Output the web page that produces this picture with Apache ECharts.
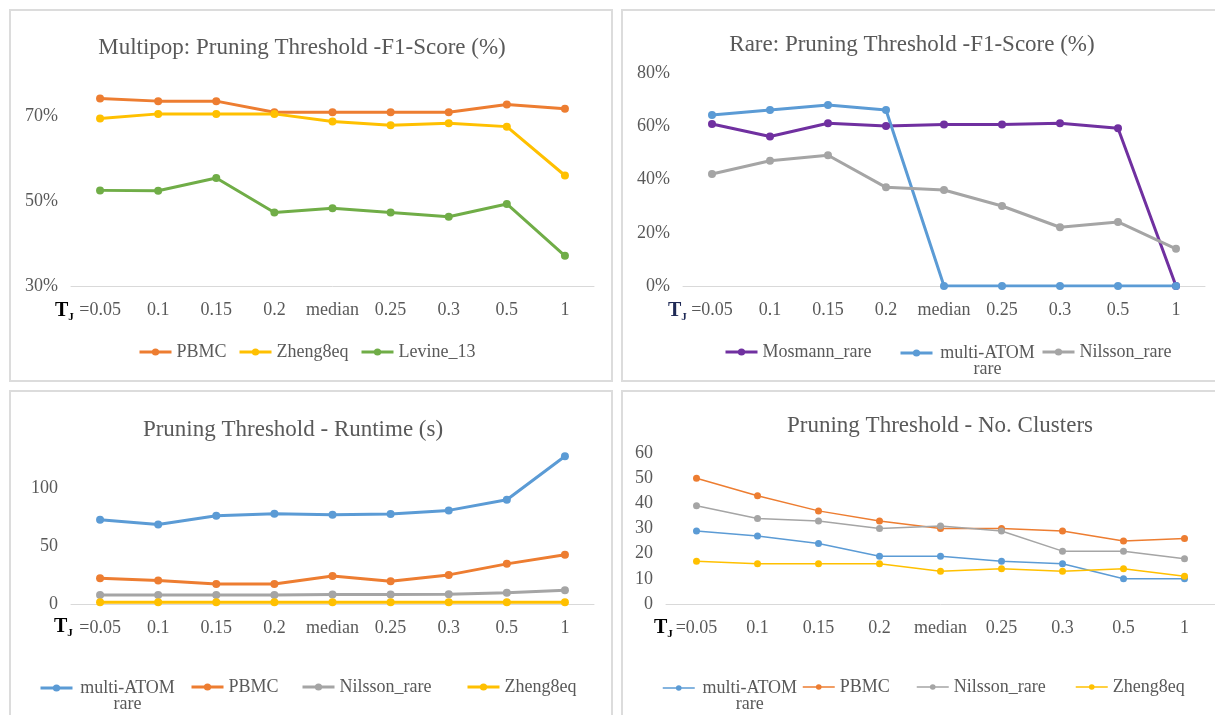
<!DOCTYPE html>
<html>
<head>
<meta charset="utf-8">
<script src="https://cdn.jsdelivr.net/npm/echarts@6/dist/echarts.min.js"></script>
<style>
  html, body { margin: 0; padding: 0; background: #fff; }
  #chart { width: 1215px; height: 715px; }
</style>
</head>
<body>
<div id="chart"></div>
<script>
// Pruning threshold values (x axis categories)
const thresholds = ['=0.05', '0.1', '0.15', '0.2', 'median', '0.25', '0.3', '0.5', '1'];

// Multipop F1-score (%)
const multipopPBMC   = [74.1, 73.5, 73.5, 70.9, 70.9, 70.9, 70.9, 72.7, 71.7];
const multipopZheng  = [69.4, 70.5, 70.5, 70.5, 68.7, 67.8, 68.3, 67.5, 56.0];
const multipopLevine = [52.5, 52.4, 55.4, 47.3, 48.3, 47.3, 46.3, 49.3, 37.1];

// Rare F1-score (%)
const rareMosmann = [60.9, 56.2, 61.2, 60.2, 60.7, 60.7, 61.2, 59.3, 0];
const rareAtom    = [64.3, 66.2, 68.1, 66.2, 0, 0, 0, 0, 0];
const rareNilsson = [42.1, 47.1, 49.2, 37.1, 36.1, 30.1, 22.1, 24.1, 14.0];

// Runtime (s)
const runAtom    = [72.6, 68.6, 76.1, 77.8, 76.9, 77.5, 80.7, 89.9, 127.4];
const runPBMC    = [22.2, 20.2, 17.3, 17.3, 24.2, 19.6, 25.1, 34.6, 42.4];
const runNilsson = [7.8, 7.8, 7.8, 7.8, 8.1, 8.1, 8.4, 9.8, 11.8];
const runZheng   = [1.5, 1.5, 1.5, 1.5, 1.5, 1.5, 1.5, 1.5, 1.5];

// Number of clusters
const clAtom    = [29, 27, 24, 19, 19, 17, 16, 10, 10];
const clPBMC    = [50, 43, 37, 33, 30, 30, 29, 25, 26];
const clNilsson = [39, 34, 33, 30, 31, 29, 21, 21, 18];
const clZheng   = [17, 16, 16, 16, 13, 14, 13, 14, 11];

const FONT = 'Liberation Serif';
const GREY_TEXT = '#595959';
const COLORS = {
  pbmc: '#ED7D31', zheng: '#FFC000', levine: '#70AD47',
  mosmann: '#7030A0', atom: '#5B9BD5', nilsson: '#A5A5A5'
};

const chart = echarts.init(document.getElementById('chart'), null, { renderer: 'canvas' });

function xAxis(gridIndex) {
  return {
    type: 'category', gridIndex, data: thresholds, boundaryGap: true,
    axisTick: { show: false },
    axisLine: { lineStyle: { color: '#D9D9D9', width: 1 } },
    axisLabel: { interval: 0, margin: 15, color: GREY_TEXT, fontFamily: FONT, fontSize: 18 }
  };
}
function yAxis(gridIndex, min, max, interval, fmt, hideMax) {
  return {
    type: 'value', gridIndex, min, max, interval,
    axisLine: { show: false }, axisTick: { show: false }, splitLine: { show: false },
    axisLabel: {
      margin: 13, color: GREY_TEXT, fontFamily: FONT, fontSize: 18,
      showMaxLabel: !hideMax, formatter: fmt
    }
  };
}
function line(name, data, color, idx, thin) {
  return {
    type: 'line', name, data, xAxisIndex: idx, yAxisIndex: idx,
    symbol: 'circle', symbolSize: thin ? 7 : 8,
    lineStyle: { color, width: thin ? 1.5 : 3 },
    itemStyle: { color },
    animation: false
  };
}
function legendItem(name, left, cy, thin) {
  return {
    data: [name], left, top: cy - 10, padding: 0, selectedMode: false,
    itemWidth: 32, itemHeight: thin ? 7 : 9,
    lineStyle: { width: thin ? 1.5 : 3 },
    textStyle: { fontFamily: FONT, fontSize: 18, color: GREY_TEXT }
  };
}
// Two-line legend entry: icon level with the first line, "rare" centred below
function legendAtom(left, cy, thin) {
  return {
    data: ['multi-ATOM rare'], left, top: cy - 9, padding: 0, selectedMode: false,
    itemWidth: 32, itemHeight: thin ? 7 : 9,
    lineStyle: { width: thin ? 1.5 : 3 },
    formatter: () => '{a|multi-ATOM}\n{a|rare}',
    textStyle: {
      padding: [16, 0, 0, 0],
      rich: { a: { fontFamily: FONT, fontSize: 18, color: GREY_TEXT, width: 100, align: 'center', lineHeight: 16 } }
    }
  };
}
function title(text, cx, top) {
  return {
    text, left: cx, top, textAlign: 'center',
    textStyle: { fontFamily: FONT, fontSize: 23, fontWeight: 'normal', color: GREY_TEXT }
  };
}
function tj(x, y, color) {
  return {
    type: 'text', left: x, top: y - 11,
    style: {
      text: '{t|T}{j|J}',
      rich: {
        t: { fontFamily: FONT, fontSize: 20, fontWeight: 'bold', fill: color },
        j: { fontFamily: FONT, fontSize: 11, fontWeight: 'bold', fill: color, padding: [12, 0, 0, 0] }
      }
    }
  };
}
function frame(x, y, w, h) {
  return { type: 'rect', shape: { x, y, width: w, height: h }, style: { fill: null, stroke: '#DCDCDC', lineWidth: 2 }, silent: true, z: -1 };
}

const pct = v => v + '%';

chart.setOption({
  animation: false,
  title: [
    title('Multipop: Pruning Threshold -F1-Score (%)', 297, 31),
    title('Rare: Pruning Threshold -F1-Score (%)', 907, 28),
    title('Pruning Threshold - Runtime (s)', 288, 413),
    title('Pruning Threshold - No. Clusters', 935, 409)
  ],
  grid: [
    { left: 71, top: 73.5, width: 523, height: 212.5 },
    { left: 683, top: 73.3, width: 522, height: 212.7 },
    { left: 71, top: 430, width: 523, height: 174 },
    { left: 666, top: 453, width: 549, height: 151 }
  ],
  xAxis: [xAxis(0), xAxis(1), xAxis(2), xAxis(3)],
  yAxis: [
    yAxis(0, 30, 80, 20, pct, true),
    yAxis(1, 0, 80, 20, pct, false),
    yAxis(2, 0, 150, 50, null, true),
    yAxis(3, 0, 60, 10, null, false)
  ],
  legend: [
    legendItem('PBMC', 138, 353),
    legendItem('Zheng8eq', 238, 353),
    legendItem('Levine_13', 360, 353),

    legendItem('Mosmann_rare', 724, 353),
    legendAtom(899, 353),
    legendItem('Nilsson_rare', 1041, 353),

    legendAtom(39, 688),
    legendItem('PBMC', 190, 688),
    legendItem('Nilsson_rare', 301, 688),
    legendItem('Zheng8eq', 466, 688),

    legendAtom(662, 688, true),
    legendItem('PBMC', 802, 688, true),
    legendItem('Nilsson_rare', 916, 688, true),
    legendItem('Zheng8eq', 1075, 688, true)
  ],
  graphic: [
    frame(10, 10, 602, 371),
    frame(622, 10, 610, 371),
    frame(10, 391, 602, 340),
    frame(622, 391, 610, 340),
    tj(55, 312, '#000000'),
    tj(668, 312, '#1F2A56'),
    tj(54, 628, '#000000'),
    tj(654, 629, '#000000')
  ],
  series: [
    line('PBMC', multipopPBMC, COLORS.pbmc, 0),
    line('Zheng8eq', multipopZheng, COLORS.zheng, 0),
    line('Levine_13', multipopLevine, COLORS.levine, 0),

    line('Mosmann_rare', rareMosmann, COLORS.mosmann, 1),
    line('multi-ATOM rare', rareAtom, COLORS.atom, 1),
    line('Nilsson_rare', rareNilsson, COLORS.nilsson, 1),

    line('multi-ATOM rare', runAtom, COLORS.atom, 2),
    line('PBMC', runPBMC, COLORS.pbmc, 2),
    line('Nilsson_rare', runNilsson, COLORS.nilsson, 2),
    line('Zheng8eq', runZheng, COLORS.zheng, 2),

    line('multi-ATOM rare', clAtom, COLORS.atom, 3, true),
    line('PBMC', clPBMC, COLORS.pbmc, 3, true),
    line('Nilsson_rare', clNilsson, COLORS.nilsson, 3, true),
    line('Zheng8eq', clZheng, COLORS.zheng, 3, true)
  ]
});
</script>
</body>
</html>
